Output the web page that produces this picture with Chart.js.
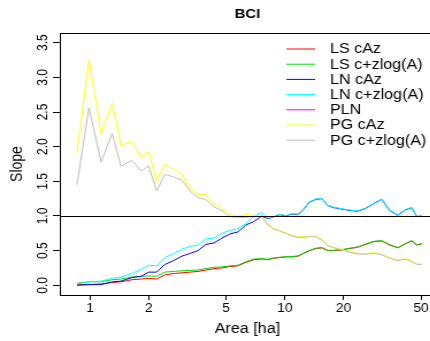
<!DOCTYPE html>
<html>
<head>
<meta charset="utf-8">
<script src="https://cdn.jsdelivr.net/npm/chart.js@4.4.1/dist/chart.umd.min.js"></script>
<style>
  html, body { margin: 0; padding: 0; background: #fff; overflow: hidden; width: 430px; height: 341px; }
  #c { display: block; width: 390px; height: 341px; transform: scaleX(1.15); transform-origin: 0 0; }
</style>
</head>
<body>
<canvas id="c" width="390" height="341"></canvas>
<script>
// areas [ha] at which the slopes were read
const areas = [0.858, 0.988, 1.14, 1.30, 1.44, 1.64, 1.83, 2.0, 2.2, 2.42, 2.7, 2.96, 3.26, 3.58, 3.93, 4.32,
  4.75, 5.22, 5.74, 6.31, 6.94, 7.62, 8.18, 8.78, 9.43, 10.1, 10.9, 11.7, 12.5, 13.4, 14.4, 15.5, 16.6, 17.8,
  19.6, 21.5, 23.7, 26.0, 28.6, 31.4, 34.5, 38.0, 41.7, 44.8, 47.5, 50.4];

const lsCAz = [0.01, 0.01, 0.02, 0.04, 0.05, 0.08, 0.09, 0.10, 0.09, 0.15, 0.17, 0.18, 0.19, 0.20, 0.22, 0.24,
  0.25, 0.27, 0.28, 0.33, 0.37, 0.38, 0.37, 0.39, 0.40, 0.41, 0.41, 0.42, 0.46, 0.50, 0.53, 0.54, 0.50, 0.50,
  0.51, 0.53, 0.55, 0.59, 0.63, 0.64, 0.58, 0.54, 0.60, 0.64, 0.58, 0.595];
const lsZlog = [0.03, 0.05, 0.05, 0.08, 0.09, 0.12, 0.13, 0.135, 0.13, 0.19, 0.20, 0.21, 0.215, 0.22, 0.24, 0.26,
  0.265, 0.28, 0.29, 0.34, 0.38, 0.385, 0.375, 0.395, 0.405, 0.415, 0.415, 0.425, 0.465, 0.505, 0.535, 0.545, 0.505, 0.505,
  0.515, 0.535, 0.555, 0.595, 0.635, 0.645, 0.585, 0.545, 0.605, 0.645, 0.585, 0.6];
const lnCAz = [0.0, 0.01, 0.01, 0.05, 0.06, 0.11, 0.13, 0.19, 0.19, 0.30, 0.36, 0.42, 0.46, 0.50, 0.59, 0.61,
  0.68, 0.74, 0.77, 0.87, 0.92, 1.0, 0.96, 0.99, 1.02, 1.0, 1.03, 1.02, 1.10, 1.20, 1.24, 1.25, 1.15, 1.12,
  1.10, 1.08, 1.07, 1.11, 1.18, 1.24, 1.08, 1.01, 1.09, 1.12, 0.99, 1.0];
const lnZlog = [0.02, 0.05, 0.06, 0.10, 0.12, 0.17, 0.23, 0.29, 0.28, 0.40, 0.46, 0.52, 0.56, 0.58, 0.67, 0.68,
  0.75, 0.79, 0.82, 0.89, 1.0, 1.05, 0.965, 0.995, 1.025, 1.005, 1.035, 1.025, 1.105, 1.205, 1.245, 1.255, 1.155, 1.125,
  1.105, 1.085, 1.075, 1.115, 1.185, 1.245, 1.085, 1.015, 1.095, 1.125, 0.995, 1.005];
const pln = [];
const pgCAz = [1.91, 3.26, 2.19, 2.63, 2.02, 2.08, 1.85, 1.93, 1.50, 1.75, 1.67, 1.60, 1.40, 1.31, 1.31, 1.18,
  1.12, 1.02, 1.0, 1.02, 1.01, 1.0, 0.88, 0.82, 0.79, 0.76, 0.72, 0.70, 0.70, 0.71, 0.71, 0.66, 0.58, 0.55,
  0.52, 0.485, 0.46, 0.46, 0.47, 0.45, 0.40, 0.365, 0.385, 0.35, 0.31, 0.31];
const pgZlog = [1.45, 2.56, 1.78, 2.19, 1.72, 1.80, 1.65, 1.72, 1.36, 1.60, 1.56, 1.52, 1.36, 1.26, 1.24, 1.13,
  1.08, 0.99, 0.98, 0.98, 0.99, 0.99, 0.87, 0.81, 0.78, 0.75, 0.71, 0.69, 0.69, 0.70, 0.70, 0.65, 0.57, 0.54,
  0.51, 0.475, 0.45, 0.45, 0.46, 0.44, 0.39, 0.355, 0.375, 0.34, 0.30, 0.30];

const seriesNames = ['LS cAz', 'LS c+zlog(A)', 'LN cAz', 'LN c+zlog(A)', 'PLN', 'PG cAz', 'PG c+zlog(A)'];
const seriesColors = ['#ff0000', '#00dd00', '#0000ff', '#00ffff', '#ff00ff', '#ffff00', '#bebebe'];
const seriesValues = [lsCAz, lsZlog, lnCAz, lnZlog, pln, pgCAz, pgZlog];

const xTicks = [1, 2, 5, 10, 20, 50];
const yTicks = [0, 0.5, 1, 1.5, 2, 2.5, 3, 3.5];
const refLine = 1;

const FONT = "'Liberation Sans', Arial, Helvetica, sans-serif";

const datasets = seriesNames.map((name, i) => ({
  label: name,
  data: seriesValues[i].map((v, k) => ({ x: areas[k], y: v })),
  borderColor: seriesColors[i],
  borderWidth: 1,
  pointRadius: 0,
  tension: 0,
  fill: false,
  order: seriesNames.length - 1 - i   // later series drawn on top, like R
}));

// box, reference line, titles and legend in R style
const rStyle = {
  id: 'rStyle',
  beforeDraw(chart) {
    const ctx = chart.ctx;
    ctx.save();
    ctx.fillStyle = '#fff';
    ctx.fillRect(0, 0, chart.width, chart.height);
    ctx.restore();
  },
  afterDraw(chart) {
    const ctx = chart.ctx;
    const a = chart.chartArea;
    const ys = chart.scales.y;
    ctx.save();
    ctx.strokeStyle = '#000';
    ctx.lineWidth = 1;
    // reference line
    const y1 = Math.round(ys.getPixelForValue(refLine)) + 0.5;
    ctx.beginPath();
    ctx.moveTo(a.left, y1);
    ctx.lineTo(a.right, y1);
    ctx.stroke();
    // box
    ctx.strokeRect(Math.round(a.left) + 0.5, Math.round(a.top) + 0.5,
      Math.round(a.right - a.left), Math.round(a.bottom - a.top));

    ctx.fillStyle = '#000';
    ctx.textAlign = 'center';
    ctx.textBaseline = 'middle';
    // main title
    ctx.font = 'bold 13px ' + FONT;
    ctx.fillText('BCI', (a.left + a.right) / 2, 14);
    // axis titles
    ctx.font = '14px ' + FONT;
    ctx.fillText('Area [ha]', (a.left + a.right) / 2, 329);
    ctx.save();
    ctx.translate(15, (a.top + a.bottom) / 2);
    ctx.rotate(-Math.PI / 2);
    ctx.fillText('Slope', 0, 0);
    ctx.restore();

    // legend
    ctx.textAlign = 'left';
    ctx.font = '14px ' + FONT;
    chart.data.datasets.forEach((ds, i) => {
      const y = 49 + i * 15.2;
      ctx.strokeStyle = ds.borderColor;
      ctx.beginPath();
      ctx.moveTo(249, y);
      ctx.lineTo(274, y);
      ctx.stroke();
      ctx.fillStyle = '#000';
      ctx.fillText(ds.label, 287, y + 0.5);
    });
    ctx.restore();
  }
};

new Chart(document.getElementById('c'), {
  type: 'line',
  data: { datasets },
  options: {
    responsive: false,
    maintainAspectRatio: false,
    animation: false,
    devicePixelRatio: 1,
    layout: { padding: { top: 33, right: 11.7, left: 0, bottom: 0 } },
    plugins: { legend: { display: false }, title: { display: false }, tooltip: { enabled: false } },
    scales: {
      x: {
        type: 'logarithmic',
        position: 'bottom',
        min: 0.72,
        max: 59,
        border: { display: false },
        grid: { drawOnChartArea: false, drawTicks: true, tickLength: 5, color: '#000' },
        ticks: {
          color: '#000', font: { size: 12, family: FONT }, padding: 1,
          autoSkip: false, minRotation: 0, maxRotation: 0,
          callback: v => String(v)
        },
        afterBuildTicks: s => { s.ticks = xTicks.map(v => ({ value: v })); },
        afterFit: s => { s.height = 46; }
      },
      y: {
        type: 'linear',
        position: 'left',
        min: -0.14,
        max: 3.64,
        border: { display: false },
        grid: { drawOnChartArea: false, drawTicks: true, tickLength: 6, color: '#000' },
        ticks: {
          color: '#000', font: { size: 12, family: FONT }, padding: 0,
          minRotation: 90, maxRotation: 90, crossAlign: 'center',
          callback: v => v.toFixed(1)
        },
        afterBuildTicks: s => { s.ticks = yTicks.map(v => ({ value: v })); },
        afterFit: s => { s.width = 52; }
      }
    }
  },
  plugins: [rStyle]
});
</script>
</body>
</html>
